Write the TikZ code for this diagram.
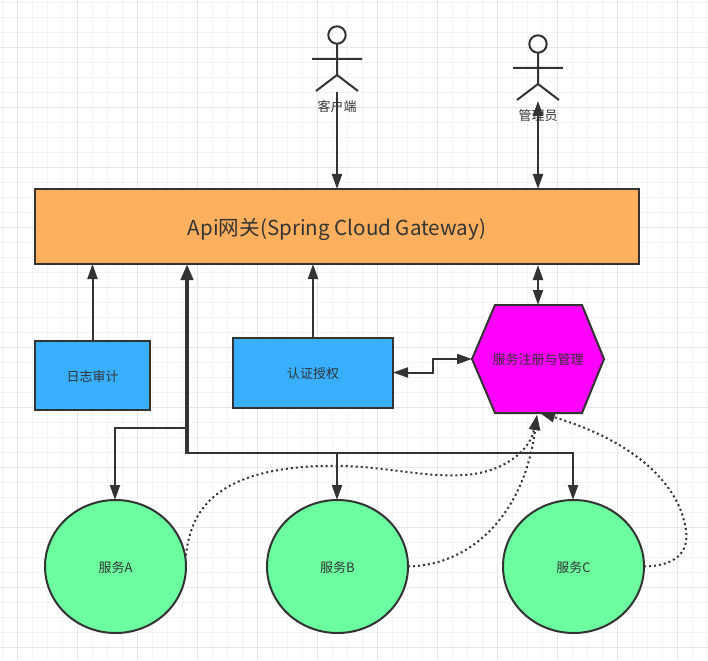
\documentclass[tikz,border=0pt]{standalone}
\usepackage{fontspec}
\newfontfamily\cjk{Noto Sans CJK SC}
\usetikzlibrary{arrows.meta,shapes.geometric,calc}
\definecolor{ink}{HTML}{333333}
\definecolor{minorgrid}{HTML}{F3F3F3}
\definecolor{majorgrid}{HTML}{E6E6E6}
\definecolor{gwfill}{HTML}{FFB05F}
\definecolor{bluefill}{HTML}{38B0FF}
\definecolor{greenfill}{HTML}{6CFFA0}
\definecolor{magentafill}{HTML}{FF00FF}
\tikzset{
  box/.style={draw=ink,line width=2pt,inner sep=0pt,outer sep=0pt,text=ink,text height=15.2pt,text depth=3.8pt,font=\cjk\fontsize{13}{15}\selectfont},
  svc/.style={box,ellipse,fill=greenfill,minimum width=141pt,minimum height=133pt},
  lbl/.style={inner sep=0pt,text=ink,font=\cjk\fontsize{13}{15}\selectfont},
  actorline/.style={draw=ink,line width=2pt},
  conn/.style={draw=ink,line width=2pt,-{Triangle[length=15pt,width=10pt]}},
  both/.style={draw=ink,line width=2pt,{Triangle[length=15pt,width=10pt]}-{Triangle[length=15pt,width=10pt]}},
  thick conn/.style={draw=ink,line width=4pt,-{Triangle[length=16pt,width=12pt]}},
  dotconn/.style={draw=ink,line width=2pt,dash pattern=on 2pt off 3pt,-{Triangle[length=15pt,width=10pt]}},
}
\begin{document}
\begin{tikzpicture}[x=1pt,y=-1pt]
\useasboundingbox (0,0) rectangle (708,660);
\fill[white] (0,0) rectangle (708,660);
% grid
\foreach \g in {2,17,...,707} \draw[minorgrid,line width=0.8pt] (\g,0) -- (\g,660);
\foreach \g in {2,17,...,659} \draw[minorgrid,line width=0.8pt] (0,\g) -- (708,\g);
\foreach \g in {17,77,...,707} \draw[majorgrid,line width=0.8pt] (\g,0) -- (\g,660);
\foreach \g in {47,107,...,659} \draw[majorgrid,line width=0.8pt] (0,\g) -- (708,\g);
% gateway and boxes
\node[box,fill=gwfill,minimum width=604pt,minimum height=75pt,text height=24pt,text depth=6pt,font=\cjk\fontsize{20.6}{23}\selectfont] (gw) at (337,226.5) {Api网关(Spring Cloud Gateway)};
\node[box,fill=bluefill,minimum width=115pt,minimum height=69pt] (log) at (92.5,375.5) {日志审计};
\node[box,fill=bluefill,minimum width=160pt,minimum height=70pt] (auth) at (313,373) {认证授权};
% registry hexagon
\draw[ink,fill=magentafill,line width=2pt,line join=miter] (472,359) -- (495,305) -- (582,305) -- (604,359) -- (582,413) -- (495,413) -- cycle;
\node[lbl,minimum width=132pt,minimum height=108pt] (reg) at (538,360) {服务注册与管理};
% services
\node[svc] (sa) at (115.5,566.5) {服务A};
\node[svc] (sb) at (337.5,566.5) {服务B};
\node[svc] (sc) at (573.5,566.5) {服务C};
% actors
\draw[actorline] (337,35) circle[radius=8.7];
\draw[actorline] (337,43.7) -- (337,75) (312,59) -- (362,59) (316,91) -- (337,75) -- (358,91);
\node[lbl] (client) at (337,107) {客户端};
\coordinate (clientfoot) at (337,92);
\draw[actorline] (538,44) circle[radius=8.7];
\draw[actorline] (538,52.7) -- (538,84) (513,68) -- (563,68) (517,100) -- (538,84) -- (559,100);
\node[lbl] (admin) at (538,116) {管理员};
\coordinate (adminfoot) at (538,101);
% connectors
\draw[conn] (clientfoot) -- (clientfoot |- gw.north);
\draw[both] (adminfoot) -- (adminfoot |- gw.north);
\draw[conn] (log.north) -- (log.north |- gw.south);
\draw[conn] (auth.north) -- (auth.north |- gw.south);
\draw[both] (538,305) -- (538,265);
\draw[both] (auth.east |- 0,372.5) -- (433,372.5) -- (433,359) -- (472,359);
\coordinate (trunk) at (187,453);
\coordinate (branch) at (187,427.5);
\coordinate (ta) at ($(sa.north)+(-0.5,0)$);
\coordinate (tb) at ($(sb.north)+(-0.5,0)$);
\coordinate (tc) at ($(sc.north)+(-0.5,0)$);
\draw[conn] (branch) -- (ta |- branch) -- (ta);
\draw[conn] (trunk) -- (tb |- trunk) -- (tb);
\draw[conn] (trunk) -- (tc |- trunk) -- (tc);
\draw[thick conn] ($(trunk)+(0,1)$) -- (trunk |- gw.south);
% dotted
\coordinate (regtip) at (537,415);
\draw[dotconn] ($(sa.east)+(0,-11)$) .. controls (190,520) and (205,470) .. (320,466) .. controls (380,464) and (420,478) .. (465,475) .. controls (505,472) and (530,450) .. (regtip);
\draw[dotconn] (sb.east) .. controls (475,565) and (525,510) .. (regtip);
\draw[dotconn] (sc.east) .. controls (672,566) and (692,555) .. (685,525) .. controls (676,480) and (630,440) .. (540,413);
\end{tikzpicture}
\end{document}
